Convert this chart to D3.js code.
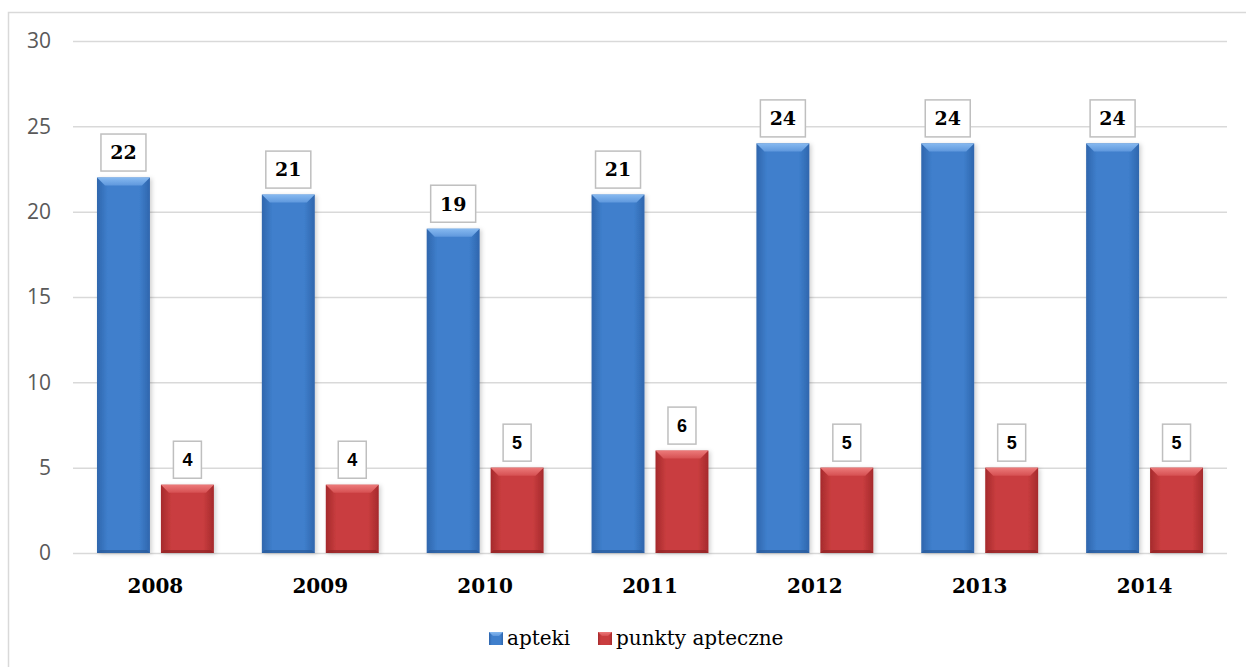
<!DOCTYPE html>
<html><head><meta charset="utf-8">
<script src="https://cdn.jsdelivr.net/npm/d3@7"></script>
<style>html,body{margin:0;padding:0;background:#fff;}svg{display:block;}</style>
</head><body>
<svg id="c" width="1246" height="667"></svg>
<script>
const years = ["2008","2009","2010","2011","2012","2013","2014"];
const series = ["apteki","punkty apteczne"];
const apteki = [22,21,19,21,24,24,24];
const punkty = [4,4,5,6,5,5,5];
const yTicks = [0,5,10,15,20,25,30];

const svg = d3.select("#c");
const W = 1246, H = 667;
const m = {left:73, right:19, top:41, bottom:114};

svg.append("rect").attr("x",8.5).attr("y",12.5).attr("width",1260).attr("height",680)
  .attr("fill","#fff").attr("stroke","#d9d9d9").attr("stroke-width",1.5);

const x0 = d3.scaleBand().domain(years).range([m.left, W-m.right]).padding(0);
const x1 = d3.scaleBand().domain(series).range([0, x0.bandwidth()]).paddingInner(0.172).paddingOuter(0.375);
const y = d3.scaleLinear().domain([0,30]).range([H-m.bottom, m.top]);

// grid
const yAxis = d3.axisLeft(y).tickValues(yTicks).tickSize(-(W-m.right-m.left)).tickPadding(22);
const ga = svg.append("g").attr("transform",`translate(${m.left},0)`).call(yAxis);
ga.select(".domain").remove();
ga.selectAll(".tick line").attr("stroke","#d9d9d9").attr("stroke-width",1.5);
ga.selectAll(".tick text").attr("fill","#595959").style("font-family","'Open Sans'").style("font-size","21px");

const defs = svg.append("defs");
const pal = {
  "apteki": {body:["#2f66ad","#3f7fcc","#2f66ad"], top:["#86b9f0","#5f98dd"], side:"#3470bb", bottom:"#2a5a98"},
  "punkty apteczne": {body:["#a52a2c","#c93d3f","#a52a2c"], top:["#ec7a7a","#d65052"], side:"#b53335", bottom:"#8f2325"}
};
series.forEach((s,i)=>{
  const g = defs.append("linearGradient").attr("id","body"+i).attr("x1",0).attr("x2",1).attr("y1",0).attr("y2",0);
  g.append("stop").attr("offset","0%").attr("stop-color",pal[s].body[0]);
  g.append("stop").attr("offset","20%").attr("stop-color",pal[s].body[1]);
  g.append("stop").attr("offset","80%").attr("stop-color",pal[s].body[1]);
  g.append("stop").attr("offset","100%").attr("stop-color",pal[s].body[2]);
  const t = defs.append("linearGradient").attr("id","top"+i).attr("x1",0).attr("x2",0).attr("y1",0).attr("y2",1);
  t.append("stop").attr("offset","0%").attr("stop-color",pal[s].top[0]);
  t.append("stop").attr("offset","100%").attr("stop-color",pal[s].top[1]);
});
const f = defs.append("filter").attr("id","sh").attr("x","-20%").attr("y","-20%").attr("width","150%").attr("height","150%");
f.append("feDropShadow").attr("dx",2).attr("dy",1).attr("stdDeviation",2).attr("flood-color","#000").attr("flood-opacity",0.18);

const data = years.map((yr,i)=>({year:yr, vals:[{s:series[0],v:apteki[i],k:0},{s:series[1],v:punkty[i],k:1}]}));
const bw = x1.bandwidth();
const b = 8;
const groups = svg.append("g").selectAll("g").data(data).join("g").attr("transform",d=>`translate(${x0(d.year)},0)`);
const bars = groups.selectAll("g.bar").data(d=>d.vals).join("g").attr("class","bar");
bars.each(function(d){
  const g = d3.select(this);
  const X = x1(d.s), Y = y(d.v), Hh = y(0)-y(d.v), P = pal[d.s];
  g.append("rect").attr("x",X).attr("y",Y).attr("width",bw).attr("height",Hh).attr("fill",`url(#body${d.k})`).attr("filter","url(#sh)");
  g.append("polygon").attr("points",[[X,Y],[X+bw,Y],[X+bw-b,Y+b],[X+b,Y+b]].map(p=>p.join(",")).join(" ")).attr("fill",`url(#top${d.k})`);
  g.append("polygon").attr("points",[[X,Y+Hh],[X+bw,Y+Hh],[X+bw-3,Y+Hh-3],[X+3,Y+Hh-3]].map(p=>p.join(",")).join(" ")).attr("fill",P.bottom).attr("opacity",0.7);
  // label
  const isA = d.k===0;
  const bwid = isA?45:28, bh = 37;
  const cx = X+bw/2, by = Y-6.5-bh;
  g.append("rect").attr("x",cx-bwid/2).attr("y",by).attr("width",bwid).attr("height",bh)
    .attr("fill","#fff").attr("stroke","#bfbfbf").attr("stroke-width",1.5);
  g.append("text").attr("x",cx).attr("y",by+bh/2).attr("dy","0.36em").attr("text-anchor","middle")
    .style("font-family",isA?"'DejaVu Serif'":"'Liberation Sans'").style("font-weight","bold")
    .style("font-size",isA?"19px":"18px").attr("fill","#000").text(d.v);
});

// x labels
svg.append("g").selectAll("text").data(years).join("text")
  .attr("x",d=>x0(d)+x0.bandwidth()/2).attr("y",593).attr("text-anchor","middle")
  .style("font-family","'DejaVu Serif'").style("font-weight","bold").style("font-size","20px").attr("fill","#000")
  .text(d=>d);

// legend
const leg = [{s:series[0],k:0,x:489},{s:series[1],k:1,x:598}];
const lg = svg.append("g").selectAll("g").data(leg).join("g").attr("transform",d=>`translate(${d.x},632)`);
lg.append("rect").attr("width",14).attr("height",13).attr("fill",d=>`url(#body${d.k})`);
lg.append("polygon").attr("points","0,0 14,0 10,4 4,4").attr("fill",d=>`url(#top${d.k})`);
lg.append("text").attr("x",18).attr("y",13).style("font-family","'DejaVu Serif'").style("font-size","20px").attr("fill","#000").text(d=>d.s);
</script>
</body></html>
